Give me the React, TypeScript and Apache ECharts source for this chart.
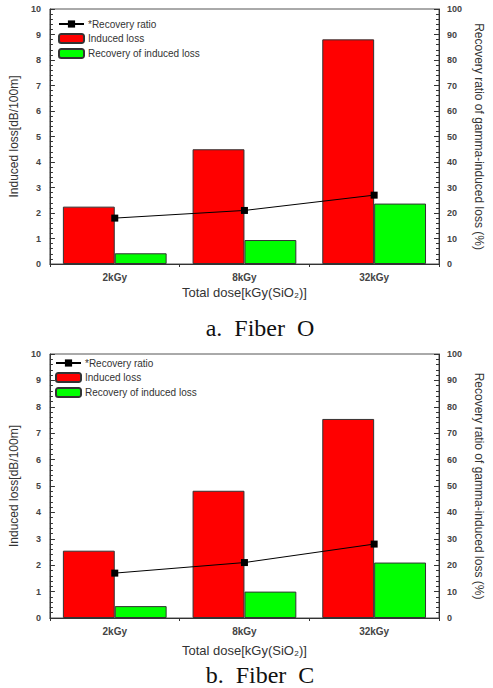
import React, { useEffect, useRef } from "react";
import * as echarts from "echarts";

const categories = ["2kGy", "8kGy", "32kGy"];
const fiberOInducedLoss = [2.25, 4.5, 8.81];
const fiberORecoveryLoss = [0.42, 0.94, 2.37];
const fiberORatio = [18, 21, 27];
const fiberCInducedLoss = [2.55, 4.82, 7.54];
const fiberCRecoveryLoss = [0.45, 1.0, 2.1];
const fiberCRatio = [17, 21, 28];

const leftTitle = "Induced loss[dB/100m]";
const rightTitle = "Recovery ratio of gamma-induced loss (%)";
const xTitle = "Total dose[kGy(SiO\u2082)]";
const captions = ["a.  Fiber  O", "b.  Fiber  C"];
const seriesNames = ["*Recovery ratio", "Induced loss", "Recovery of induced loss"];

const FONT = "Liberation Sans, Arial, sans-serif";

export default function App() {
  const ref = useRef<HTMLDivElement>(null);
  useEffect(() => {
    if (!ref.current) return;
    const chart = echarts.init(ref.current, undefined, { renderer: "svg" });

    const grids = [
      { left: 48, top: 9, width: 400, height: 255 },
      { left: 46, top: 354, width: 404, height: 264 },
    ];
    const xNameGaps = [22, 26];
    const data = [
      [fiberOInducedLoss, fiberORecoveryLoss, fiberORatio],
      [fiberCInducedLoss, fiberCRecoveryLoss, fiberCRatio],
    ];
    const legendPos = [
      { left: 58, top: 19 },
      { left: 55, top: 358 },
    ];

    const xAxes: any[] = [];
    const yAxes: any[] = [];
    const series: any[] = [];
    const legends: any[] = [];

    grids.forEach((g, i) => {
      xAxes.push({
        type: "category",
        gridIndex: i,
        position: "bottom",
        data: categories,
        name: xTitle,
        nameLocation: "middle",
        nameGap: xNameGaps[i],
        nameTextStyle: { fontFamily: FONT, fontSize: 13, color: "#333" },
        axisLine: { lineStyle: { color: "#333", width: 1 } },
        axisTick: { alignWithLabel: true, length: 5, lineStyle: { color: "#333" } },
        axisLabel: { fontFamily: FONT, fontSize: 10, color: "#444", fontWeight: "bold", margin: 8 },
        splitLine: { show: false },
      });
      xAxes.push({
        type: "category",
        gridIndex: i,
        position: "bottom",
        data: categories,
        axisLine: { show: false },
        axisTick: { show: true, length: 3, lineStyle: { color: "#333" } },
        axisLabel: { show: false },
        splitLine: { show: false },
      });
      yAxes.push({
        type: "value",
        gridIndex: i,
        position: "left",
        min: 0,
        max: 10,
        interval: 1,
        name: leftTitle,
        nameLocation: "middle",
        nameGap: 27,
        nameTextStyle: { fontFamily: FONT, fontSize: 12, color: "#333" },
        axisLine: { show: true, lineStyle: { color: "#333" } },
        axisTick: { show: true, inside: true, length: 5, lineStyle: { color: "#333" } },
        minorTick: { show: true, splitNumber: 5, length: 3, lineStyle: { color: "#333" } },
        axisLabel: { fontFamily: FONT, fontSize: 9, color: "#444", fontWeight: "bold", margin: 9 },
        splitLine: { show: false },
      });
      yAxes.push({
        type: "value",
        gridIndex: i,
        position: "right",
        min: 0,
        max: 100,
        interval: 10,
        name: rightTitle,
        nameLocation: "middle",
        nameRotate: -90,
        nameGap: 34,
        nameTextStyle: { fontFamily: FONT, fontSize: 12, color: "#333" },
        axisLine: { show: true, lineStyle: { color: "#333" } },
        axisTick: { show: true, inside: true, length: 5, lineStyle: { color: "#333" } },
        minorTick: { show: true, splitNumber: 5, length: 3, lineStyle: { color: "#333" } },
        axisLabel: { fontFamily: FONT, fontSize: 9, color: "#444", fontWeight: "bold", margin: 8 },
        splitLine: { show: false },
      });

      const [induced, recov, ratio] = data[i];
      series.push({
        type: "bar",
        name: seriesNames[1],
        xAxisIndex: i * 2,
        yAxisIndex: i * 2,
        data: induced,
        barGap: "0%",
        barCategoryGap: "20%",
        itemStyle: { color: "#ff0000", borderColor: "#333", borderWidth: 1 },
      });
      series.push({
        type: "bar",
        name: seriesNames[2],
        xAxisIndex: i * 2,
        yAxisIndex: i * 2,
        data: recov,
        barGap: "0%",
        barCategoryGap: "20%",
        itemStyle: { color: "#00ff00", borderColor: "#333", borderWidth: 1 },
      });
      series.push({
        type: "line",
        name: seriesNames[0],
        xAxisIndex: i * 2,
        yAxisIndex: i * 2 + 1,
        data: ratio,
        symbol: "rect",
        symbolSize: 7,
        itemStyle: { color: "#000" },
        lineStyle: { color: "#000", width: 1 },
        z: 5,
      });
      legends.push({
        orient: "vertical",
        left: legendPos[i].left,
        top: legendPos[i].top,
        itemWidth: 25,
        itemHeight: 9,
        itemGap: 4,
        padding: 0,
        data: seriesNames,
        textStyle: { fontFamily: FONT, fontSize: 10, color: "#333", padding: [0, 0, 0, -1] },
      });
    });

    chart.setOption({
      animation: false,
      backgroundColor: "#fff",
      grid: grids.map((g) => ({ ...g, show: true, borderColor: "#555", borderWidth: 1, backgroundColor: "transparent" })),
      xAxis: xAxes,
      yAxis: yAxes,
      legend: legends,
      series,
      graphic: [
        {
          type: "text",
          x: 260,
          y: 328,
          style: {
            text: captions[0],
            fontFamily: "Liberation Serif, Times New Roman, serif",
            fontSize: 24,
            fill: "#111",
            align: "center",
            verticalAlign: "middle",
          },
        },
        {
          type: "text",
          x: 260,
          y: 675,
          style: {
            text: captions[1],
            fontFamily: "Liberation Serif, Times New Roman, serif",
            fontSize: 24,
            fill: "#111",
            align: "center",
            verticalAlign: "middle",
          },
        },
      ],
    });
    return () => chart.dispose();
  }, []);
  return (
    <div
      ref={ref}
      style={{ position: "absolute", left: 0, top: 0, width: 493, height: 688 }}
    />
  );
}
